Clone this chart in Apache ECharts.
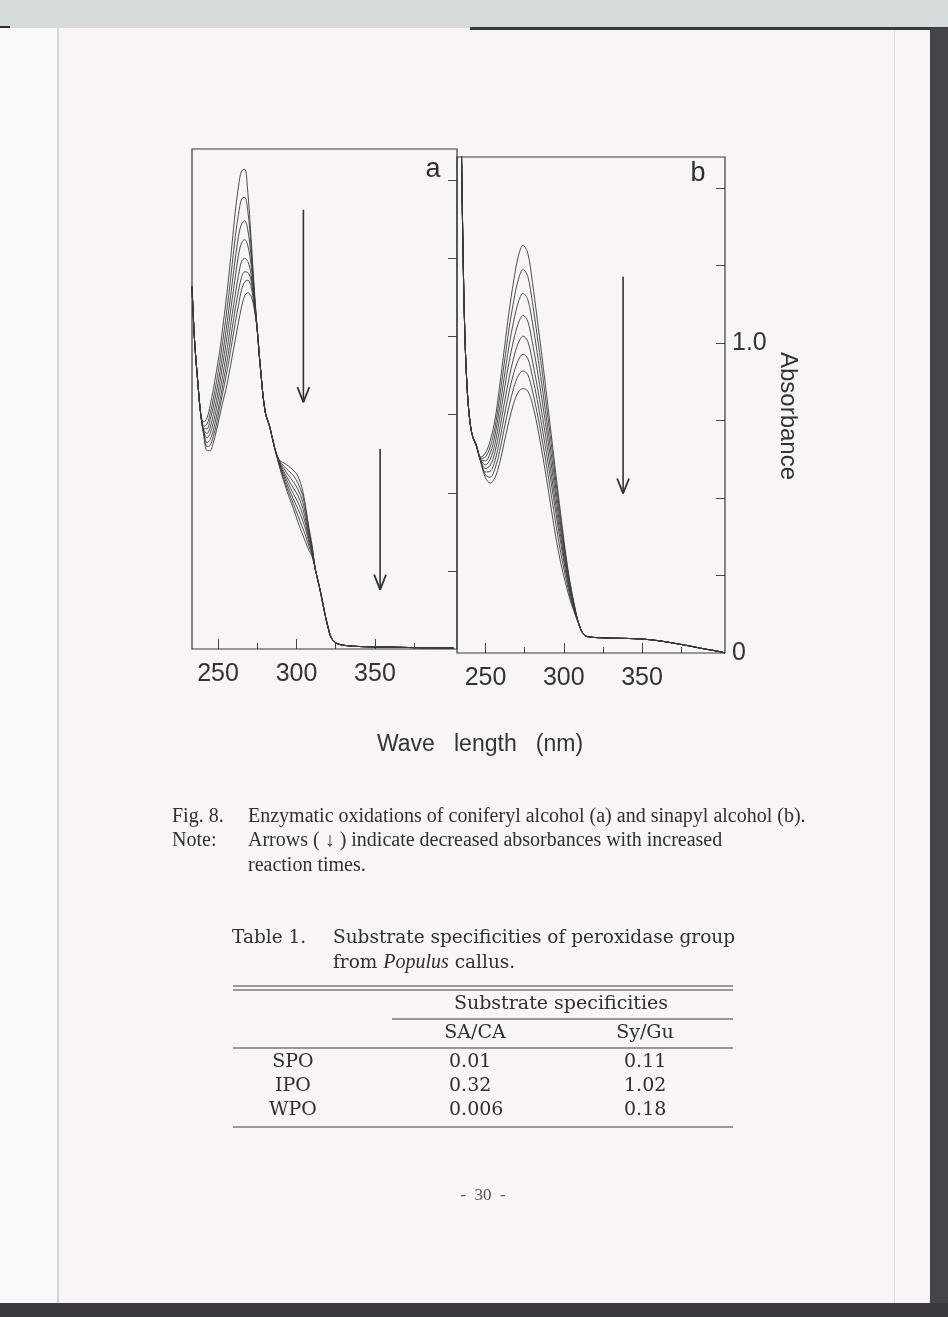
<html>
<head>
<meta charset="utf-8">
<script src="https://cdn.jsdelivr.net/npm/echarts@6/dist/echarts.min.js"></script>
<style>body{margin:0;background:#f8f4f7}</style>
</head>
<body>
<div id="main" style="width:948px;height:1317px;"></div>
<script>
// panel a : coniferyl alcohol, 8 scans (highest = start of reaction)
var wlA = [233.4,235,237, 239,241,243,245,247,249,251,253,255,257,259,261,263,265,267,269,271,273,
           275,277,280,283,286, 289,292,295,298,301,304,306,308,310,
           312,315,318,320,322,325,330,340,360,380,400];
var aLeft = [1.16, 0.99, 0.86];
var peaksA = [
  [0.75,0.726,0.74,0.78,0.83,0.89,0.95,1.03,1.11,1.20,1.30,1.40,1.48,1.53,1.535,1.46,1.32,1.16],
  [0.75,0.713,0.72,0.755,0.80,0.855,0.915,0.985,1.06,1.14,1.23,1.32,1.39,1.44,1.445,1.40,1.29,1.15],
  [0.75,0.705,0.705,0.735,0.775,0.825,0.88,0.945,1.015,1.09,1.17,1.25,1.32,1.36,1.37,1.34,1.26,1.14],
  [0.75,0.70,0.69,0.71,0.75,0.795,0.85,0.91,0.975,1.045,1.12,1.19,1.26,1.30,1.31,1.29,1.23,1.13],
  [0.75,0.695,0.675,0.69,0.725,0.77,0.82,0.875,0.935,1.0,1.07,1.135,1.195,1.24,1.25,1.24,1.20,1.12],
  [0.75,0.69,0.66,0.67,0.70,0.745,0.79,0.845,0.90,0.96,1.025,1.09,1.145,1.19,1.207,1.205,1.18,1.11],
  [0.75,0.685,0.648,0.652,0.68,0.72,0.77,0.82,0.87,0.925,0.985,1.045,1.10,1.15,1.175,1.18,1.16,1.10],
  [0.75,0.68,0.635,0.635,0.66,0.70,0.745,0.79,0.83,0.88,0.935,0.99,1.045,1.095,1.13,1.14,1.13,1.09]
];
var aDesc = [1.02, 0.90, 0.76, 0.71, 0.645];
var shouldersA = [
  [0.605,0.595,0.585,0.572,0.552,0.505,0.45,0.385,0.33],
  [0.603,0.585,0.57,0.555,0.53,0.49,0.44,0.38,0.325],
  [0.60,0.577,0.555,0.535,0.51,0.47,0.425,0.37,0.32],
  [0.598,0.568,0.54,0.515,0.49,0.45,0.41,0.36,0.315],
  [0.596,0.56,0.527,0.497,0.468,0.43,0.395,0.35,0.31],
  [0.593,0.552,0.514,0.48,0.447,0.41,0.38,0.34,0.305],
  [0.59,0.543,0.502,0.465,0.425,0.387,0.36,0.328,0.30],
  [0.585,0.535,0.49,0.45,0.405,0.365,0.34,0.315,0.295]
];
var aTail = [0.255,0.19,0.115,0.072,0.038,0.02,0.012,0.008,0.006,0.004,0.003];

// panel b : sinapyl alcohol
var wlB = [232,233,234,235,236,237,238,239,240.5,242,
           244,247,250,253,256,259,262,265,268,271,274,277,280,283,286,289,292,295,298,301,304,307,
           310,313,316,320,325,330,340,350,360,370,380,390,396,400,403];
var bLeft = [2.6,2.2,1.85,1.5,1.2,1.0,0.88,0.8,0.73,0.695];
var peaksB = [
  [0.675,0.632,0.645,0.685,0.75,0.86,0.98,1.10,1.20,1.28,1.315,1.29,1.195,1.08,0.96,0.835,0.705,0.575,0.45,0.33,0.228,0.15],
  [0.674,0.628,0.632,0.665,0.725,0.825,0.935,1.045,1.135,1.205,1.237,1.215,1.13,1.025,0.915,0.795,0.675,0.552,0.433,0.32,0.222,0.147],
  [0.673,0.625,0.62,0.645,0.70,0.79,0.89,0.99,1.07,1.132,1.16,1.14,1.065,0.97,0.865,0.755,0.642,0.527,0.415,0.308,0.215,0.144],
  [0.672,0.622,0.607,0.625,0.673,0.755,0.848,0.937,1.01,1.064,1.089,1.07,1.0,0.915,0.82,0.718,0.61,0.502,0.397,0.296,0.207,0.141],
  [0.671,0.62,0.595,0.605,0.647,0.72,0.805,0.885,0.952,1.0,1.022,1.005,0.942,0.862,0.775,0.68,0.578,0.475,0.376,0.283,0.2,0.138],
  [0.67,0.618,0.584,0.586,0.62,0.685,0.765,0.84,0.902,0.945,0.964,0.95,0.892,0.818,0.733,0.643,0.548,0.45,0.356,0.268,0.192,0.134],
  [0.67,0.616,0.574,0.567,0.594,0.65,0.725,0.795,0.855,0.895,0.91,0.898,0.845,0.775,0.693,0.605,0.51,0.415,0.325,0.25,0.182,0.131],
  [0.67,0.615,0.565,0.548,0.565,0.612,0.68,0.748,0.805,0.842,0.853,0.845,0.803,0.735,0.652,0.562,0.465,0.372,0.292,0.228,0.172,0.128]
];
var bTail = [0.088,0.058,0.052,0.05,0.049,0.048,0.047,0.045,0.04,0.032,0.023,0.013,0.008,0.004,0.0];

// arrows: [wavelength, from, to]
var arrowsA = [[304.4, 1.406, 0.79], [353.3, 0.64, 0.19]];
var arrowsB = [[337.9, 1.214, 0.515]];

var majorTicks = [250, 300, 350];
var minorTicks = [275, 325, 375];
var yTicks = [0.25, 0.5, 0.75, 1.0, 1.25, 1.5];

// table
var rowNames = ['SPO', 'IPO', 'WPO'];
var saca = ['0.01', '0.32', '0.006'];
var sygu = ['0.11', '1.02', '0.18'];

var ink = '#2f2f2f';
var sans = 'Liberation Sans';
var serif = 'Liberation Serif';
var tserif = 'DejaVu Serif';

function curve(wl, parts) {
  var vals = [].concat.apply([], parts);
  return vals.map(function (v, k) { return [wl[k], v]; });
}

var series = [];
for (var i = 0; i < 8; i++) {
  series.push({
    type: 'line', xAxisIndex: 0, yAxisIndex: 0, symbol: 'none', smooth: 0.35, silent: true,
    lineStyle: { color: '#3a3a3a', width: 0.9 },
    data: curve(wlA, [aLeft, peaksA[i], aDesc, shouldersA[i], aTail])
  });
  series.push({
    type: 'line', xAxisIndex: 2, yAxisIndex: 1, symbol: 'none', smooth: 0.35, silent: true,
    lineStyle: { color: '#3a3a3a', width: 0.9 },
    data: curve(wlB, [bLeft, peaksB[i], bTail])
  });
}

function addArrows(list, xi, yi) {
  list.forEach(function (a) {
    var hw = 3.8, hh = 0.048;
    series.push({ type: 'line', xAxisIndex: xi, yAxisIndex: yi, symbol: 'none', silent: true,
      lineStyle: { color: '#333', width: 1.6 }, data: [[a[0], a[1]], [a[0], a[2]]] });
    series.push({ type: 'line', xAxisIndex: xi, yAxisIndex: yi, symbol: 'none', silent: true,
      lineStyle: { color: '#333', width: 1.8 },
      data: [[a[0] - hw, a[2] + hh], [a[0], a[2]], [a[0] + hw, a[2] + hh]] });
  });
}
addArrows(arrowsA, 0, 0);
addArrows(arrowsB, 2, 1);

function xAx(grid, min, max, ticks, len, labels) {
  return {
    type: 'value', gridIndex: grid, min: min, max: max, position: 'bottom',
    axisLine: { show: false }, splitLine: { show: false },
    axisTick: { show: true, inside: true, length: len, customValues: ticks,
      lineStyle: { color: '#444', width: 1 } },
    axisLabel: labels ? { show: true, customValues: majorTicks, margin: 13,
      fontSize: 25, fontFamily: sans, color: '#333' } : { show: false }
  };
}

function txt(x, y, s, size, font, align, extra) {
  var o = { type: 'text', x: x, y: y, silent: true,
    style: { text: s, fontSize: size, fontFamily: font, fill: ink,
      align: align || 'left', textAlign: align || 'left',
      verticalAlign: 'middle', textVerticalAlign: 'middle' } };
  if (extra) for (var k in extra) o.style[k] = extra[k];
  return o;
}
function hline(x1, x2, y, w) {
  return { type: 'line', silent: true, shape: { x1: x1, y1: y, x2: x2, y2: y },
    style: { stroke: '#3a3a3a', lineWidth: w || 1 } };
}

var graphics = [
  // scan edges
  { type: 'rect', shape: { x: 0, y: 0, width: 948, height: 28 }, style: { fill: '#d4dbd9' }, silent: true },
  { type: 'rect', shape: { x: 470, y: 27, width: 478, height: 3 }, style: { fill: '#3a3a40' }, silent: true },
  { type: 'rect', shape: { x: 0, y: 26, width: 10, height: 8 }, style: { fill: '#2a2a30' }, silent: true },
  { type: 'rect', shape: { x: 0, y: 28, width: 57, height: 1275 }, style: { fill: '#fbf8fa' }, silent: true },
  { type: 'rect', shape: { x: 57, y: 28, width: 2, height: 1275 }, style: { fill: '#d8d4d8' }, silent: true },
  { type: 'rect', shape: { x: 894, y: 30, width: 1, height: 1273 }, style: { fill: '#e2dde1' }, silent: true },
  { type: 'rect', shape: { x: 930, y: 28, width: 18, height: 1289 }, style: { fill: '#44444a' }, silent: true },
  { type: 'rect', shape: { x: 0, y: 1303, width: 948, height: 14 }, style: { fill: '#3a3a40' }, silent: true },

  txt(433, 170, 'a', 27, sans, 'center'),
  txt(698, 174, 'b', 27, sans, 'center'),
  { type: 'text', x: 788, y: 416, rotation: -Math.PI / 2, silent: true,
    style: { text: 'Absorbance', fontSize: 24, fontFamily: sans, fill: '#333',
      align: 'center', textAlign: 'center', verticalAlign: 'middle', textVerticalAlign: 'middle' } },
  txt(480, 745, 'Wave   length   (nm)', 23, sans, 'center', { fill: '#333' }),

  // caption
  txt(172, 817, 'Fig. 8.', 20, serif),
  txt(248, 817, 'Enzymatic oxidations of coniferyl alcohol (a) and sinapyl alcohol (b).', 20, serif),
  txt(172, 841, 'Note:', 20, serif),
  txt(248, 841, 'Arrows ( \u2193 ) indicate decreased absorbances with increased', 20, serif),
  txt(248, 866, 'reaction times.', 20, serif),

  // table
  txt(232, 938, 'Table 1.', 18.5, tserif),
  txt(333, 938, 'Substrate specificities of peroxidase group', 18.5, tserif),
  { type: 'text', x: 333, y: 963, silent: true,
    style: { text: '{n|from }{i|Populus}{n| callus.}', fill: ink, fontSize: 18.5, fontFamily: tserif,
      verticalAlign: 'middle', textVerticalAlign: 'middle',
      rich: { n: { fontSize: 18.5, fontFamily: tserif, fill: ink },
              i: { fontSize: 20, fontFamily: serif, fontStyle: 'italic', fill: ink } } } },
  hline(233, 733, 986, 1.2), hline(233, 733, 990, 1.2),
  txt(561, 1004, 'Substrate specificities', 19, tserif, 'center'),
  hline(392, 733, 1019, 1),
  txt(475, 1033, 'SA/CA', 19, tserif, 'center'),
  txt(645, 1033, 'Sy/Gu', 19, tserif, 'center'),
  hline(233, 733, 1048, 1),
  hline(233, 733, 1127, 1.2),
  txt(483, 1196, '-  30  -', 17, serif, 'center', { fill: '#555' })
];
rowNames.forEach(function (r, k) {
  var y = 1062 + k * 24;
  graphics.push(txt(293, y, r, 19, tserif, 'center'));
  graphics.push(txt(449, y, saca[k], 19, tserif));
  graphics.push(txt(624, y, sygu[k], 19, tserif));
});

var chart = echarts.init(document.getElementById('main'));
chart.setOption({
  backgroundColor: '#f8f4f7',
  animation: false,
  grid: [
    { left: 192, top: 149, width: 265, height: 500, show: true, borderColor: '#3a3a3a', borderWidth: 1.2,
      backgroundColor: 'transparent', containLabel: false, outerBoundsMode: 'none' },
    { left: 457, top: 157, width: 268, height: 496, show: true, borderColor: '#3a3a3a', borderWidth: 1.2,
      backgroundColor: 'transparent', containLabel: false, outerBoundsMode: 'none' }
  ],
  xAxis: [
    xAx(0, 233.4, 402.3, majorTicks, 10, true),
    xAx(0, 233.4, 402.3, minorTicks, 6, false),
    xAx(1, 231.8, 403, majorTicks, 10, true),
    xAx(1, 231.8, 403, minorTicks, 6, false)
  ],
  yAxis: [
    { type: 'value', gridIndex: 0, min: 0, max: 1.6, position: 'right',
      axisLine: { show: false }, splitLine: { show: false },
      axisTick: { show: true, inside: true, length: 9, customValues: yTicks, lineStyle: { color: '#444' } },
      axisLabel: { show: false } },
    { type: 'value', gridIndex: 1, min: 0, max: 1.6, position: 'right',
      axisLine: { show: false }, splitLine: { show: false },
      axisTick: { show: true, inside: true, length: 9, customValues: yTicks, lineStyle: { color: '#444' } },
      axisLabel: { show: true, customValues: [0, 1.0], margin: 7, fontSize: 25, fontFamily: sans, color: '#333',
        formatter: function (v) { return v === 0 ? '0' : v.toFixed(1); } } }
  ],
  graphic: graphics,
  series: series
});
</script>
</body>
</html>
